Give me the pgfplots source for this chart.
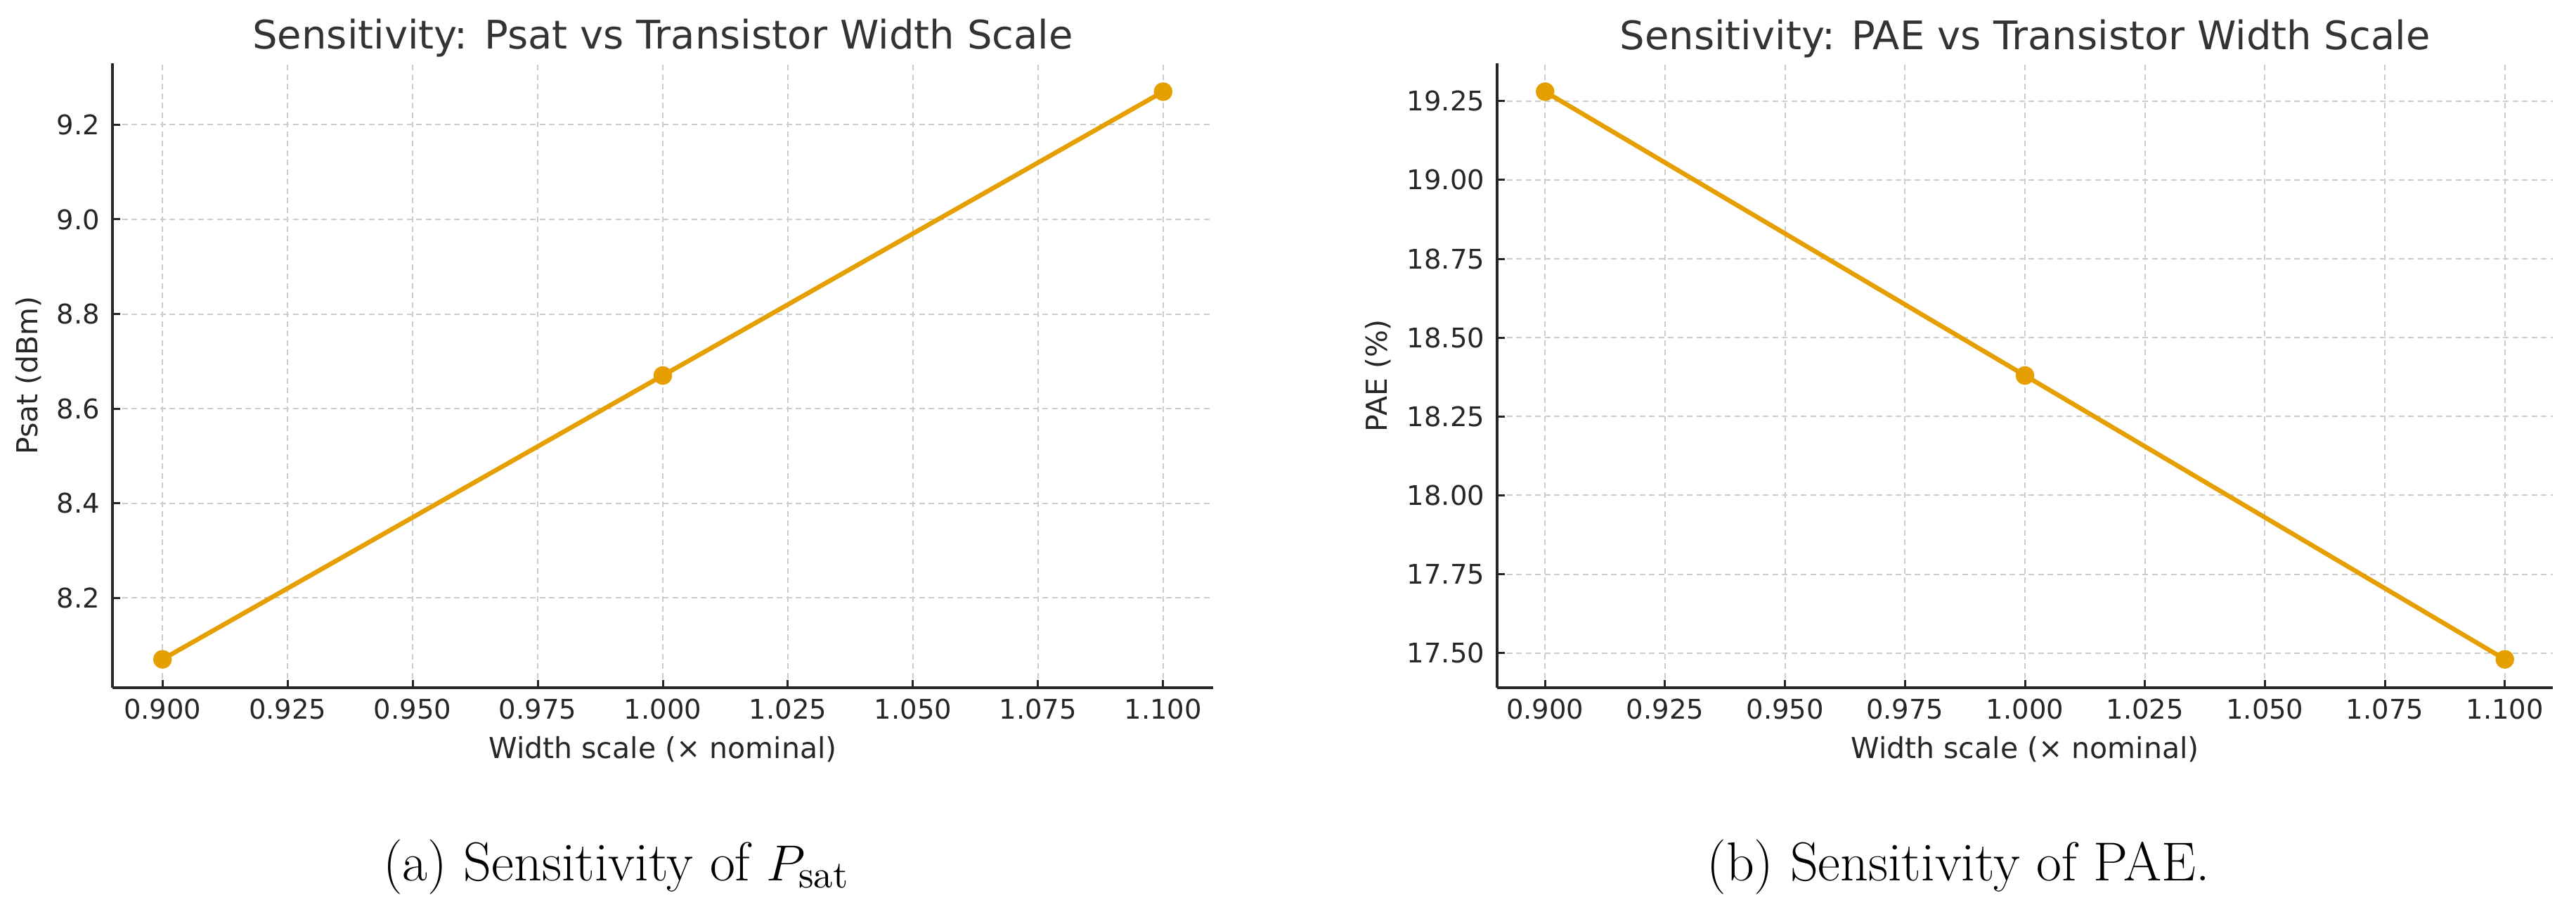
\documentclass[border=0pt]{standalone}
\usepackage{fontspec}
\usepackage{pgfplots}
\pgfplotsset{compat=1.18}
\newfontfamily\dejavu{DejaVu Sans}
\definecolor{lineor}{HTML}{E69F00}
\definecolor{spine}{HTML}{262626}
\definecolor{ttl}{HTML}{333333}
\definecolor{gridc}{HTML}{CCCCCC}
\pgfplotsset{
  mystyle/.style={
    scale only axis,
    height=177.6pt,
    axis lines*=left,
    x axis line style={-, line width=0.7pt, color=spine},
    y axis line style={-, line width=0.7pt, color=spine},
    tick align=inside,
    major tick length=2.2pt,
    every tick/.style={line width=0.6pt, color=spine},
    xtick pos=bottom, ytick pos=left,
    grid=major,
    major grid style={gridc, line width=0.4pt, dash pattern=on 1.6pt off 1.1pt},
    scaled ticks=false,
    /pgf/number format/assume math mode=true,
    xmin=0.89, xmax=1.11,
    xtick={0.9,0.925,0.95,0.975,1.0,1.025,1.05,1.075,1.1},
    xticklabel style={anchor=north, inner sep=0pt, yshift=-3pt, text=spine, font=\dejavu\fontsize{7.7}{9}\selectfont, /pgf/number format/.cd, fixed, fixed zerofill, precision=3},
    yticklabel style={anchor=east, inner sep=0pt, xshift=-3.4pt, text=spine, font=\dejavu\fontsize{7.7}{9}\selectfont},
    every axis title/.style={at={(axis description cs:0.5,1)}, anchor=base, yshift=4pt, text=ttl, font=\dejavu\fontsize{11.2}{13}\selectfont},
    every axis x label/.style={at={(axis description cs:0.5,0)}, anchor=base, yshift=-20pt, text=spine, font=\dejavu\fontsize{8.2}{10}\selectfont},
    xlabel={Width scale (× nominal)},
  }
}
\begin{document}
\begin{tikzpicture}
\path[use as bounding box] (0,0) rectangle (733pt,257.2pt);
\begin{axis}[mystyle,
  at={(32pt,61.6pt)}, anchor=south west, width=313.2pt,
  ymin=8.01, ymax=9.33,
  ytick={8.2,8.4,8.6,8.8,9.0,9.2},
  yticklabel style={/pgf/number format/.cd, fixed, fixed zerofill, precision=1},
  title={Sensitivity: Psat vs Transistor Width Scale},
  ylabel={Psat (dBm)},
  every axis y label/.style={at={(axis description cs:-0.0677,0.5)}, rotate=90, anchor=base, text=spine, font=\dejavu\fontsize{8.2}{10}\selectfont},
]
\addplot[color=lineor, line width=1.3pt, mark=*, mark size=2pt, mark options={fill=lineor, draw=lineor}]
  coordinates {(0.9,8.07) (1.0,8.67) (1.1,9.27)};
\end{axis}
\begin{axis}[mystyle,
  at={(426pt,61.6pt)}, anchor=south west, width=300.4pt,
  ymin=17.39, ymax=19.37,
  ytick={17.5,17.75,18.0,18.25,18.5,18.75,19.0,19.25},
  yticklabel style={/pgf/number format/.cd, fixed, fixed zerofill, precision=2},
  title={Sensitivity: PAE vs Transistor Width Scale},
  ylabel={PAE (\%)},
  every axis y label/.style={at={(axis description cs:-0.1045,0.5)}, rotate=90, anchor=base, text=spine, font=\dejavu\fontsize{8.2}{10}\selectfont},
]
\addplot[color=lineor, line width=1.3pt, mark=*, mark size=2pt, mark options={fill=lineor, draw=lineor}]
  coordinates {(0.9,19.28) (1.0,18.38) (1.1,17.48)};
\end{axis}
\node[anchor=base, inner sep=0pt, font=\fontsize{15.6}{18}\selectfont] at (175.4pt,6.8pt) {(a) Sensitivity of $P_{\mathrm{sat}}$};
\node[anchor=base, inner sep=0pt, font=\fontsize{15.6}{18}\selectfont] at (557.2pt,6.8pt) {(b) Sensitivity of PAE.};
\end{tikzpicture}
\end{document}
